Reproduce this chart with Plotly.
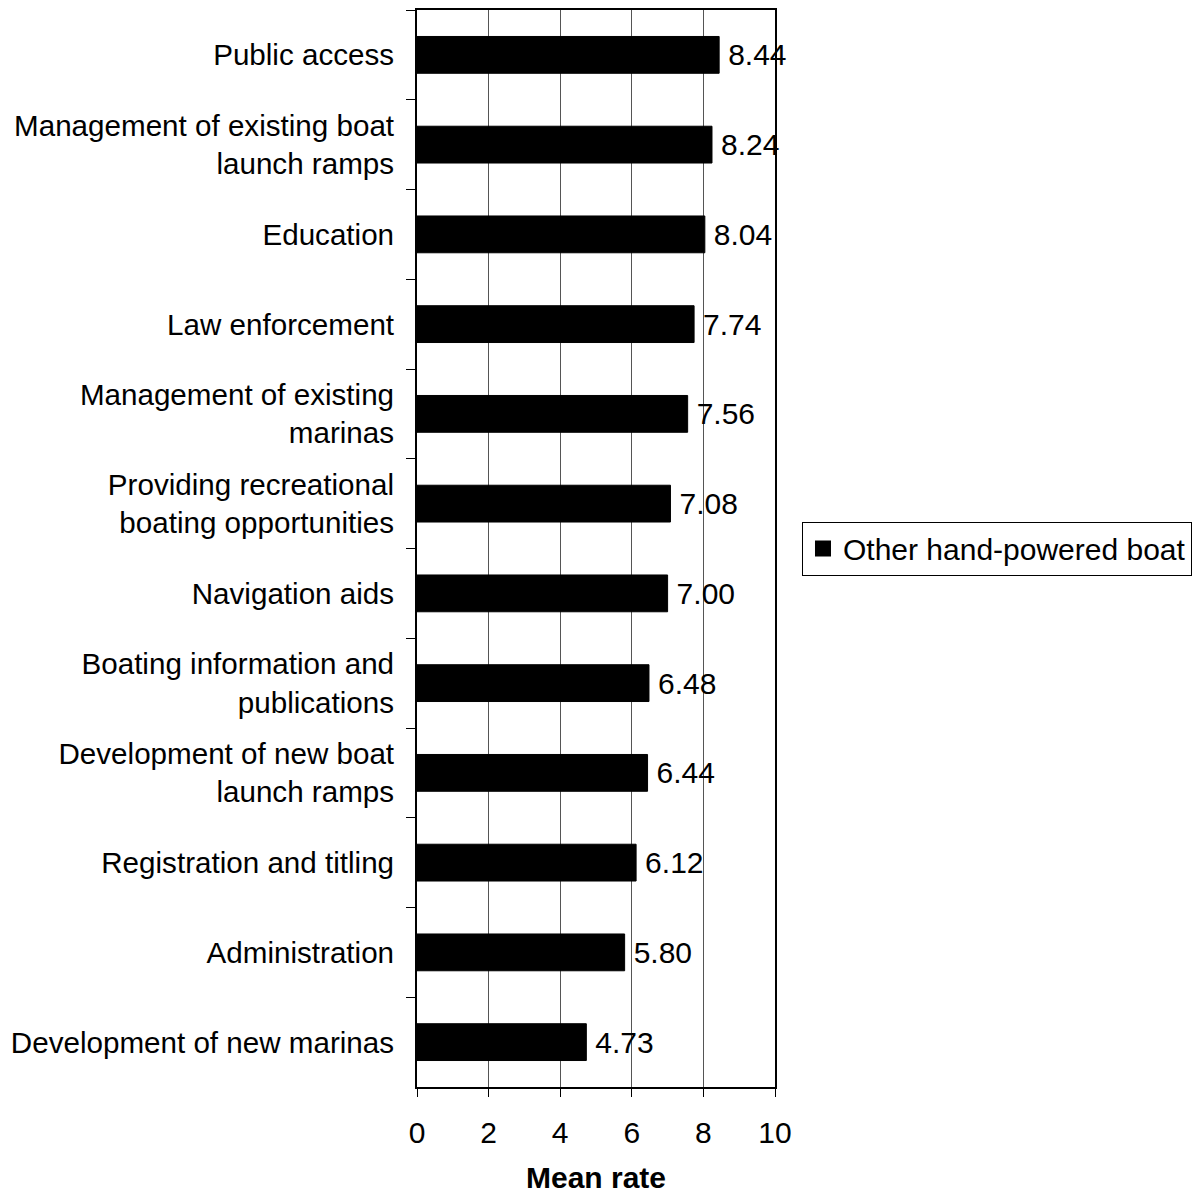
import plotly.graph_objects as go

categories = [
    "Public access",
    "Management of existing boat<br>launch ramps",
    "Education",
    "Law enforcement",
    "Management of existing<br>marinas",
    "Providing recreational<br>boating opportunities",
    "Navigation aids",
    "Boating information and<br>publications",
    "Development of new boat<br>launch ramps",
    "Registration and titling",
    "Administration",
    "Development of new marinas",
]
values = [8.44, 8.24, 8.04, 7.74, 7.56, 7.08, 7.00, 6.48, 6.44, 6.12, 5.80, 4.73]
labels = ["\u2009" + f"{v:.2f}" for v in values]
series_name = "Other hand-powered boat"
x_ticks = [0, 2, 4, 6, 8, 10]

font_family = "Liberation Sans, Arial, sans-serif"
FS = 30

fig = go.Figure()
fig.add_trace(go.Bar(
    y=categories, x=values, orientation="h",
    name=series_name,
    marker=dict(color="black", line=dict(color="black", width=1)),
    text=labels, textposition="outside", cliponaxis=False,
    textfont=dict(size=FS, color="black", family=font_family),
    showlegend=False,
))
# legend entry with a larger square swatch
fig.add_trace(go.Scatter(
    x=[None], y=[None], mode="markers", name=series_name,
    marker=dict(symbol="square", size=22, color="black"),
    showlegend=True, hoverinfo="skip",
))

fig.update_layout(
    width=1194, height=1186,
    margin=dict(l=409, r=427, t=2, b=107, autoexpand=False),
    plot_bgcolor="white", paper_bgcolor="white",
    font=dict(family=font_family, size=FS, color="black"),
    bargap=0.59,
    showlegend=True,
    legend=dict(
        x=1.0754, y=0.5, xanchor="left", yanchor="middle",
        bordercolor="black", borderwidth=1,
        font=dict(size=FS, color="black", family=font_family),
        itemwidth=30, tracegroupgap=0,
    ),
    xaxis=dict(
        range=[0, 10], tickvals=x_ticks, ticks="outside", ticklen=8,
        tickcolor="black", showline=True, linecolor="black", linewidth=2,
        mirror=True, showgrid=True, gridcolor="#555555", gridwidth=1,
        zeroline=False, automargin=False,
        tickfont=dict(size=FS), ticklabelstandoff=10,
        title=dict(text="<b>Mean rate</b>", font=dict(size=FS), standoff=22),
    ),
    yaxis=dict(
        autorange="reversed", categoryorder="array", categoryarray=categories,
        ticks="outside", tickson="boundaries", ticklen=9, tickcolor="black",
        showline=True, linecolor="black", linewidth=2, mirror=True,
        showgrid=False, tickfont=dict(size=29.6), ticklabelstandoff=15,
        automargin=False,
    ),
)

fig.write_html("out.html")
